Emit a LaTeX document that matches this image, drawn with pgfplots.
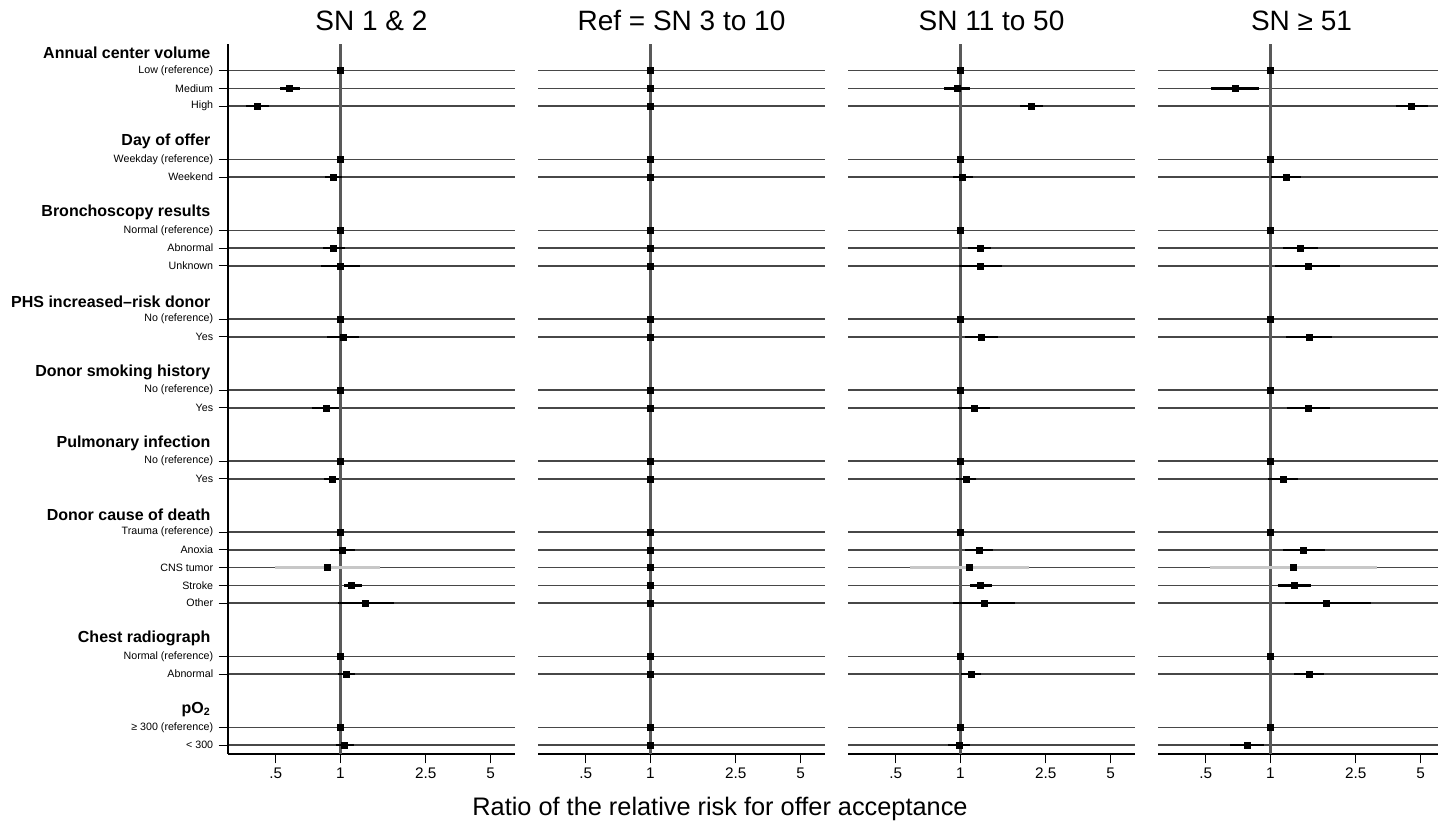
\documentclass[border=0pt]{standalone}
\usepackage{pgfplots}
\usepackage{pgfplotstable}
\usepackage{fontspec}
\setmainfont{Liberation Sans}
\pgfplotsset{compat=1.18}

% point estimates, one table per panel (row = position from the top)
\pgfplotstableread{
row est
1 1
2 0.58
3 0.412
6 1
7 0.927
10 1
11 0.927
12 1.0
15 1
16 1.03
19 1
20 0.859
23 1
24 0.917
27 1
28 1.02
29 0.869
30 1.13
31 1.31
34 1
35 1.07
38 1
39 1.04
}\tabA
\pgfplotstableread{
row est
1 1
2 1
3 1
6 1
7 1
10 1
11 1
12 1
15 1
16 1
19 1
20 1
23 1
24 1
27 1
28 1
29 1
30 1
31 1
34 1
35 1
38 1
39 1
}\tabB
\pgfplotstableread{
row est
1 1
2 0.968
3 2.14
6 1
7 1.025
10 1
11 1.24
12 1.24
15 1
16 1.25
19 1
20 1.155
23 1
24 1.063
27 1
28 1.22
29 1.10
30 1.24
31 1.29
34 1
35 1.12
38 1
39 0.988
}\tabC
\pgfplotstableread{
row est
1 1
2 0.686
3 4.54
6 1
7 1.18
10 1
11 1.38
12 1.50
15 1
16 1.52
19 1
20 1.50
23 1
24 1.15
27 1
28 1.43
29 1.28
30 1.29
31 1.83
34 1
35 1.52
38 1
39 0.779
}\tabD

\pgfplotsset{
  panel/.style={
    anchor=south west,
    scale only axis, width=215.25pt, height=532.5pt,
    xmin=0.3, xmax=6.5, xminorticks=false,
    ymin=-0.5, ymax=39.5, y dir=reverse,
    axis x line*=bottom, axis y line*=left,
    axis line style={-, black, line width=0.8pt},
    xtick={0.5,1,2.5,5}, xticklabels={.5,1,2.5,5},
    xticklabel style={font=\fontsize{11.5}{13}\selectfont},
    ytick={1,2,3,6,7,10,11,12,15,16,19,20,23,24,27,28,29,30,31,34,35,38,39},
    ymajorgrids, grid style={black!72, line width=1pt},
    tick align=outside, major tick length=7pt,
    tick style={black, line width=0.8pt},
    title style={font=\fontsize{21}{25}\selectfont, at={(0.5,1)}, anchor=base, yshift=4.5pt},
  },
  nolabels/.style={
    yticklabels={}, y axis line style={draw=none}, ytick style={draw=none},
  },
  refline/.style={black!65, line width=2.2pt},
  ci/.style={black, line width=1.8pt, unbounded coords=jump},
  cilight/.style={black!22, line width=1.8pt},
  est/.style={only marks, mark=square*, mark size=2.25pt, black},
}

\begin{document}
\begin{tikzpicture}
\useasboundingbox (0,0) rectangle (1078.5pt,629.25pt);

\begin{semilogxaxis}[panel, at={(171pt,63.75pt)}, title={SN 1 \& 2},
    yticklabels={Low (reference), Medium, High, Weekday (reference), Weekend,
      Normal (reference), Abnormal, Unknown, No (reference), Yes, No (reference), Yes,
      No (reference), Yes, Trauma (reference), Anoxia, CNS tumor, Stroke, Other,
      Normal (reference), Abnormal, ≥ 300 (reference), < 300},
    yticklabel style={font=\fontsize{8}{9}\selectfont, anchor=east, inner sep=0pt, xshift=-4pt},
    extra y ticks={0,5,9,14,18,22,26,33,37},
    extra y tick labels={Annual center volume, Day of offer, Bronchoscopy results,
      PHS increased--risk donor, Donor smoking history, Pulmonary infection,
      Donor cause of death, Chest radiograph, pO\textsubscript{2}},
    extra y tick style={grid=none, major tick length=0pt,
      yticklabel style={font=\bfseries\fontsize{12}{14}\selectfont, anchor=east, inner sep=0pt, xshift=-9pt}},
  ]
  \addplot[refline] coordinates {(1,-0.5) (1,39.5)};
  \addplot[ci] coordinates {(0.525,2) (0.651,2) (nan,nan) (0.363,3) (0.468,3) (nan,nan)
    (0.847,7) (1.02,7) (nan,nan) (0.832,11) (1.048,11) (nan,nan) (0.814,12) (1.23,12) (nan,nan)
    (0.871,16) (1.22,16) (nan,nan) (0.735,20) (0.99,20) (nan,nan) (0.84,24) (0.99,24) (nan,nan)
    (0.894,28) (1.17,28) (nan,nan) (1.04,30) (1.26,30) (nan,nan) (0.97,31) (1.78,31) (nan,nan)
    (0.97,35) (1.17,35) (nan,nan) (0.95,39) (1.16,39)};
  \addplot[cilight] coordinates {(0.497,29) (1.53,29)};
  \addplot[est] table[x=est, y=row] {\tabA};
\end{semilogxaxis}

\begin{semilogxaxis}[panel, nolabels, at={(403.5pt,63.75pt)}, title={Ref = SN 3 to 10}]
  \addplot[refline] coordinates {(1,-0.5) (1,39.5)};
  \addplot[est] table[x=est, y=row] {\tabB};
\end{semilogxaxis}

\begin{semilogxaxis}[panel, nolabels, at={(636pt,63.75pt)}, title={SN 11 to 50}]
  \addplot[refline] coordinates {(1,-0.5) (1,39.5)};
  \addplot[ci] coordinates {(0.842,2) (1.108,2) (nan,nan) (1.89,3) (2.42,3) (nan,nan)
    (0.925,7) (1.145,7) (nan,nan) (1.09,11) (1.39,11) (nan,nan) (0.988,12) (1.56,12) (nan,nan)
    (1.05,16) (1.50,16) (nan,nan) (0.97,20) (1.377,20) (nan,nan) (0.956,24) (1.18,24) (nan,nan)
    (1.055,28) (1.42,28) (nan,nan) (1.11,30) (1.405,30) (nan,nan) (0.925,31) (1.80,31) (nan,nan)
    (1.01,35) (1.25,35) (nan,nan) (0.877,39) (1.108,39)};
  \addplot[cilight] coordinates {(0.58,29) (2.08,29)};
  \addplot[est] table[x=est, y=row] {\tabC};
\end{semilogxaxis}

\begin{semilogxaxis}[panel, nolabels, at={(868.5pt,63.75pt)}, title={SN ≥ 51}]
  \addplot[refline] coordinates {(1,-0.5) (1,39.5)};
  \addplot[ci] coordinates {(0.53,2) (0.884,2) (nan,nan) (3.83,3) (5.43,3) (nan,nan)
    (1.01,7) (1.39,7) (nan,nan) (1.145,11) (1.66,11) (nan,nan) (1.05,12) (2.12,12) (nan,nan)
    (1.18,16) (1.94,16) (nan,nan) (1.19,20) (1.89,20) (nan,nan) (0.98,24) (1.35,24) (nan,nan)
    (1.145,28) (1.80,28) (nan,nan) (1.08,30) (1.54,30) (nan,nan) (1.17,31) (2.93,31) (nan,nan)
    (1.29,35) (1.78,35) (nan,nan) (0.65,39) (0.933,39)};
  \addplot[cilight] coordinates {(0.521,29) (3.14,29)};
  \addplot[est] table[x=est, y=row] {\tabD};
\end{semilogxaxis}

\node[font=\fontsize{19}{23}\selectfont] at (540pt,22.5pt) {Ratio of the relative risk for offer acceptance};
\end{tikzpicture}
\end{document}
